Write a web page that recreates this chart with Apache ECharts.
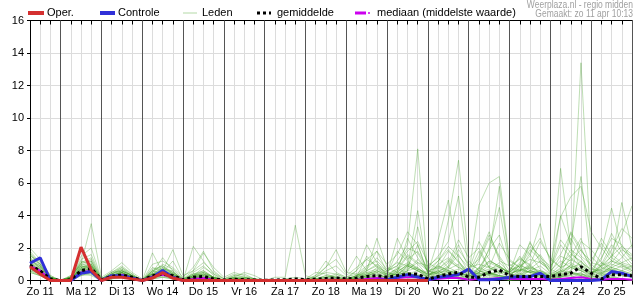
<!DOCTYPE html>
<html><head><meta charset="utf-8">
<script src="https://cdn.jsdelivr.net/npm/echarts@6/dist/echarts.min.js"></script>
<style>html,body{margin:0;padding:0;background:#fff}#c{width:635px;height:300px}</style>
</head><body><div id="c"></div><script>
// time index: 0 = Zo 11 06:00, step 6 hours, 59 = Ma 26 00:00
const dayLabels = ['Zo 11','Ma 12','Di 13','Wo 14','Do 15','Vr 16','Za 17','Zo 18','Ma 19','Di 20','Wo 21','Do 22','Vr 23','Za 24','Zo 25'];
const yTicks = [0,2,4,6,8,10,12,14,16];

const oper = [0.85,0.4,0, 0,0,2.05,0.65, 0,0.2,0.2,0.1, 0,0.15,0.48,0.15, 0,0,0,0, 0,0,0,0, 0,0,0,0, 0,0,0,0, 0,0,0,0, 0,0,0,0, 0];
const controle = [1.06,1.4,0, 0,0,0.45,0.55, 0,0.3,0.3,0.15, 0,0.2,0.62,0.2, 0,0,0,0, 0,0,0,0, 0,0,0,0, 0,0,0,0, 0,0,0,0.02, 0.05,0.2,0.36,0.22, 0.05,0.2,0.27,0.37, 0.7,0.05,0.05,0.1, 0.2,0.23,0.23,0.45, 0,0,0,0, 0,0.05,0.55,0.45, 0.25];
const gemiddelde = [0.95,0.6,0.1, 0,0.05,0.6,0.75, 0.05,0.25,0.35,0.2, 0.02,0.3,0.4,0.3, 0.05,0.2,0.25,0.1, 0.03,0.07,0.06,0.03, 0.02,0.03,0.05,0.1, 0.05,0.08,0.12,0.15, 0.1,0.15,0.25,0.3, 0.2,0.3,0.4,0.4, 0.1,0.25,0.4,0.5, 0.2,0.2,0.5,0.65, 0.3,0.25,0.25,0.25, 0.25,0.35,0.45,0.85, 0.45,0.1,0.35,0.35, 0.3];
const mediaan = [0.9,0.6,0.05, 0,0,0.5,0.6, 0,0.2,0.35,0.15, 0,0.25,0.35,0.2, 0,0.1,0.15,0.05, 0,0,0,0, 0,0,0,0, 0,0,0.05,0.05, 0,0.05,0.1,0.15, 0.1,0.15,0.2,0.2, 0.05,0.1,0.15,0.15, 0.05,0.1,0.1,0.15, 0.1,0.1,0.1,0.1, 0.05,0.1,0.15,0.2, 0.1,0.05,0.1,0.1, 0.05];

const lid01 = [1.0,0.6,0.1, 0,0.1,0.5,0.8, 0,0.3,0.5,0.2, 0,0.2,0.4,0.2, 0,0.1,0.2,0, 0,0.1,0,0, 0,0,0,0, 0,0,0.2,0.3, 0,0.3,0.6,0.9, 0.5,1.2,2.2,8.1, 0.3,0.6,0.2,0.4, 0,0.2,0.5,0.3, 0,0,0.3,0.6, 0.2,0.4,0.3,0.5, 0,0.2,0.3,0.1, 0];
const lid02 = [1.8,1.1,0.2, 0,0.2,1.2,1.0, 0.1,0.5,0.8,0.3, 0,0.8,0.6,0.4, 0.1,0.4,0.3,0.1, 0,0,0,0, 0,0,0,0.1, 0,0.1,0.3,0.2, 0,0.2,1.5,0.8, 0.3,0.6,0.9,4.3, 0.5,2.5,4.95,1.2, 0.2,0.8,0.5,0.2, 0,0.3,0.8,0.4, 0,0.2,0.6,1.2, 0.4,0.9,1.5,2.1, 1.6];
const lid03 = [0.7,0.4,0, 0,0,0.4,0.5, 0,0.2,0.3,0.1, 0,0.5,1.4,0.6, 0,0.2,0.5,0.2, 0,0.2,0.1,0, 0,0,0,0, 0,0,0.1,0, 0.1,0.6,2.2,1.1, 0.3,0.8,0.4,0.6, 0.2,1.0,3.7,7.4, 1.2,0.6,0.4,0.3, 0.2,0.6,1.0,0.4, 0,6.9,2.0,0.8, 0.3,0.5,0.7,0.4, 0.2];
const lid04 = [1.2,0.9,0.2, 0,0.1,0.8,0.6, 0,0.4,0.6,0.3, 0,1.7,0.5,0.2, 0,2.1,1.2,0.4, 0.1,0.2,0.1,0, 0,0,0,0, 0.1,0.3,0.8,1.9, 0.5,0.4,0.2,0.1, 0,0.2,0.5,0.3, 0.1,0.2,0.4,0.3, 0.4,4.65,6.0,6.4, 1.2,0.8,0.5,0.3, 0.1,0.3,0.2,0.4, 0.2,1.0,2.2,1.5, 0.8];
const lid05 = [0.9,0.5,0.1, 0,0,0.7,0.9, 0.1,0.2,0.4,0.2, 0,0.3,0.6,1.9, 0.3,0.6,1.7,0.8, 0.2,0.5,0.3,0.1, 0,0.2,0.2,3.4, 0.3,0.1,0,0, 0,0.1,0.3,0.2, 0.1,0.5,2.6,1.4, 0.6,0.4,0.3,0.2, 0.1,0.3,0.4,0.2, 0.3,0.8,1.5,3.5, 1.0,3.9,5.15,5.8, 3.0,2.0,1.2,0.9, 0.6];
const lid06 = [2.0,1.3,0.3, 0,0.3,1.0,3.5, 0.2,0.6,1.1,0.5, 0.1,0.4,0.3,0.1, 0,0.1,0.2,0.1, 0,0,0,0, 0,0,0,0, 0,0,0,0, 0,0.3,0.8,1.8, 1.0,1.6,3.0,2.2, 0.4,0.5,0.6,0.3, 0.2,0.5,1.2,0.9, 0.4,0.3,0.2,0.5, 0.3,0.6,0.9,13.4, 1.5,0.8,0.6,0.4, 0.3];
const lid07 = [0.6,0.3,0, 0,0,0.3,0.4, 0,0.1,0.2,0.1, 0,0.1,0.2,0.1, 0,0,0.1,0, 0,0,0,0, 0,0,0,0, 0,0,0,0, 0,0,0.1,0.2, 0.1,0.3,0.6,3.3, 0.8,1.5,2.4,5.2, 0.6,0.4,2.0,4.5, 0.8,0.6,0.5,0.4, 0.2,0.4,1.0,0.6, 0.3,1.8,4.45,2.0, 1.2];
const lid08 = [1.4,0.7,0.1, 0,0.2,0.6,0.7, 0,0.3,0.5,0.2, 0,0.4,0.8,0.5, 0.1,0.3,0.2,0.1, 0,0.1,0.2,0.1, 0,0,0.1,0, 0,0.2,0.85,1.3, 0.4,1.5,0.6,2.6, 0.8,0.5,0.3,0.2, 0.1,0.3,0.5,0.2, 0,0.8,1.6,5.8, 1.0,0.6,0.9,0.4, 0.2,4.0,2.2,6.4, 1.1,0.9,1.2,4.8, 2.0];
const lid09 = [0.8,0.5,0.1, 0,0.1,0.9,1.2, 0,0.2,0.3,0.1, 0,0.2,0.4,0.3, 0,0.1,0.3,0.1, 0,0,0,0, 0,0,0,0, 0,0,0,0.2, 0.1,0.2,0.4,0.3, 0.2,0.4,0.8,2.2, 0.5,0.9,0.6,0.4, 0.3,0.4,0.5,0.3, 0.2,0.5,2.4,1.1, 0.6,1.2,0.8,0.6, 0.4,0.8,1.5,2.8, 4.6];
const lid10 = [1.1,0.8,0.2, 0,0.2,1.5,2.0, 0.1,0.4,0.7,0.3, 0,0.6,0.9,0.4, 0,0.4,0.6,0.2, 0,0.3,0.4,0.1, 0,0,0,0, 0,0.3,1.2,0.5, 0.2,0.6,1.3,1.8, 0.5,0.3,0.6,0.8, 0.2,0.4,0.8,1.6, 0.5,1.8,0.8,0.4, 0.6,1.5,0.7,0.3, 0.2,0.5,1.5,2.6, 0.8,0.4,0.3,0.6, 0.9];
const lid11 = [0.5,0.3,0, 0,0,0.4,0.3, 0,0.1,0.2,0.1, 0,0.1,0.3,0.1, 0,0.1,0,0, 0,0,0,0, 0,0,0,0, 0,0,0,0, 0,0,0,0, 0,0.2,0.4,0.3, 0.1,0.3,0.6,0.4, 0.3,1.2,2.6,1.4, 0.3,0.2,0.6,0.4, 0.1,0.2,0.5,0.3, 0.1,0.3,0.5,0.4, 0.2];
const lid12 = [1.6,1.0,0.2, 0,0.2,1.1,1.4, 0.1,0.5,0.9,0.4, 0,1.0,1.2,0.8, 0.2,0.8,1.8,0.6, 0.1,0.4,0.2,0.1, 0,0,0,0, 0,0.2,0.5,0.4, 0.2,0.4,0.9,1.2, 0.6,0.9,1.8,2.4, 1.1,0.7,1.2,0.8, 0.6,0.4,0.3,0.2, 0.1,0.3,0.6,0.9, 0.4,1.0,1.6,1.2, 0.6,0.4,0.9,1.4, 2.2];
const lid13 = [0.9,0.6,0.1, 0,0.1,0.7,0.6, 0,0.2,0.4,0.2, 0,0.2,0.5,1.2, 0.1,0.3,0.4,0.2, 0,0.1,0.1,0, 0,0,0,0, 0,0,0.1,0.1, 0,0.1,0.2,0.4, 0.2,0.6,1.5,1.0, 0.3,0.5,1.1,2.5, 1.4,2.0,0.8,0.5, 0.2,1.0,2.1,1.5, 0.4,0.3,0.8,1.0, 0.5,0.7,1.2,1.0, 0.6];
const lid14 = [1.3,0.9,0.1, 0,0.3,0.9,0.8, 0,0.3,0.6,0.2, 0,0.6,0.4,0.3, 0,0.3,0.4,0.2, 0,0,0,0, 0,0,0,0, 0,0.1,0.3,0.2, 0,0.1,0.3,0.5, 0.1,0.2,0.3,0.4, 0.2,0.2,0.3,0.5, 0.2,0.3,0.4,0.6, 0.4,0.7,0.5,0.6, 0.3,0.5,0.8,0.6, 0.2,0.4,0.7,0.5, 0.3];
const lid15 = [0.7,0.4,0.1, 0,0.2,0.5,0.6, 0,0.2,0.3,0.2, 0,0.3,0.4,0.2, 0,0.2,0.3,0.1, 0,0.1,0.1,0, 0,0,0,0, 0,0,0,0, 0,0,0,0, 0,0,0.1,0.3, 0.3,0.8,1.8,1.2, 0.4,0.6,1.1,0.8, 0.5,2.2,1.6,0.7, 0.2,0.6,3.0,2.0, 0.7,1.4,2.6,2.2, 1.3];
const lid16 = [1.5,1.2,0.3, 0,0.2,1.3,1.6, 0.1,0.4,0.6,0.3, 0,0.5,0.7,0.6, 0,0.3,0.8,0.4, 0,0.2,0.5,0.3, 0,0,0.1,0.2, 0.1,0.5,0.4,0.2, 0.1,0.3,0.7,1.4, 0.7,1.1,0.9,0.6, 0.4,0.3,0.2,0.1, 0,0.2,0.6,1.1, 0.5,0.9,1.3,1.1, 0.7,0.4,0.6,2.4, 1.9,1.1,0.6,0.4, 0.3];
const lid17 = [0.6,0.4,0.1, 0,0.1,0.6,0.9, 0,0.3,0.5,0.1, 0,0.2,0.3,0.2, 0,0.2,0.1,0, 0,0,0,0, 0,0,0,0, 0,0,0,0, 0,0,0.2,0.6, 0.4,0.7,1.1,0.8, 0.3,0.6,0.3,0.2, 0.1,0.3,0.5,0.3, 0.2,0.4,0.3,0.2, 0.1,0.3,0.5,0.4, 0.2,0.3,0.4,0.3, 0.2];
const lid18 = [1.0,0.7,0.2, 0,0.1,0.8,1.1, 0,0.3,0.4,0.3, 0,0.3,0.7,0.4, 0,0.5,0.9,0.3, 0,0.1,0.2,0.1, 0,0,0,0, 0,0,0.1,0.2, 0.1,0.3,0.5,0.7, 0.4,2.6,1.3,1.8, 0.7,1.2,2.1,1.5, 0.8,1.0,0.8,2.3, 1.3,0.8,1.9,1.3, 0.5,1.5,1.2,1.9, 0.9,2.6,1.6,1.1, 0.9];
const lid19 = [1.1,0.6,0.1, 0,0.1,0.5,0.4, 0,0.2,0.3,0.1, 0,0.3,0.5,0.3, 0,0.1,0.2,0.1, 0,0,0,0, 0,0,0,0, 0,0,0,0, 0,0.1,0.2,0.1, 0,0.2,0.5,0.3, 0.1,0.2,0.4,0.2, 0,0.1,0.2,0.1, 0,0.1,0.3,0.2, 0.1,0.2,0.4,0.3, 0.1,0.2,0.2,0.1, 0];
const lid20 = [1.7,1.0,0.2, 0,0.2,1.0,1.3, 0,0.4,0.8,0.4, 0,0.7,0.9,0.5, 0.1,0.6,1.1,0.5, 0.1,0.3,0.2,0, 0,0,0,0, 0,0.1,0.2,0.1, 0,0.2,0.6,1.0, 0.6,0.9,2.0,1.7, 0.5,1.0,1.4,0.9, 0.3,1.5,3.0,1.2, 0.9,1.3,1.0,2.4, 1.4,0.8,2.6,1.5, 1.0,0.5,0.8,1.1, 1.4];
const lid21 = [0.8,0.5,0, 0,0.1,0.6,0.5, 0,0.1,0.3,0.2, 0,0.2,0.3,0.4, 0,0.1,0.2,0, 0,0,0,0, 0,0,0,0, 0,0,0,0, 0,0.1,0.3,0.8, 0.5,0.3,0.6,1.3, 0.6,0.4,0.7,1.0, 0.5,0.7,1.9,2.8, 0.8,0.4,0.9,1.6, 0.7,2.2,1.4,0.9, 0.4,1.1,0.8,0.6, 0.4];
const lid22 = [1.3,0.8,0.2, 0,0.2,0.8,1.0, 0,0.3,0.5,0.2, 0,0.4,0.6,0.3, 0,0.2,0.4,0.2, 0,0.1,0,0, 0,0,0,0, 0,0,0,0.1, 0,0.2,0.5,0.4, 0.2,0.4,0.9,0.6, 0.3,0.7,1.3,0.8, 0.4,0.6,0.4,0.5, 0.6,1.4,0.9,0.5, 0.3,0.8,1.1,0.7, 0.5,0.9,1.9,3.2, 2.6];
const lid23 = [0.5,0.3,0, 0,0,0.3,0.5, 0,0.2,0.2,0.1, 0,0.1,0.2,0.1, 0,0.1,0.1,0, 0,0,0,0, 0,0,0,0, 0,0,0,0, 0,0,0,0, 0,0.1,0.2,0.1, 0,0.1,0.2,0.1, 0,0.1,0.3,0.2, 0,0.2,0.4,0.2, 0,0.2,0.3,0.1, 0,0.1,0.2,0.1, 0];
const lid24 = [1.2,0.8,0.1, 0,0.1,0.9,0.7, 0,0.2,0.6,0.3, 0,0.5,1.0,0.7, 0.1,0.4,0.5,0.2, 0,0.2,0.1,0, 0,0,0,0, 0,0,0.2,0.4, 0.1,0.3,0.4,0.6, 0.3,0.5,1.0,0.7, 0.4,0.9,0.6,0.5, 0.3,0.5,0.7,0.9, 0.5,0.6,0.8,0.6, 0.4,0.7,1.3,0.9, 0.5,0.7,1.0,0.8, 0.5];
const lid25 = [1.4,1.0,0.2, 0,0.2,1.0,0.9, 0,0.4,0.7,0.3, 0,0.6,0.8,0.4, 0,0.3,0.5,0.2, 0,0.1,0.1,0, 0,0,0,0, 0,0.2,0.6,0.9, 0.3,0.8,1.3,0.9, 0.4,1.8,1.2,0.7, 0.5,1.2,1.9,1.1, 0.6,2.4,1.3,0.8, 0.5,1.1,2.3,1.4, 0.9,1.6,2.9,1.8, 1.2,2.3,1.4,1.0, 0.8];
const lid26 = [0.9,0.6,0.1, 0,0.1,0.7,0.8, 0,0.3,0.5,0.2, 0,0.4,0.5,0.3, 0,0.2,0.3,0.1, 0,0,0,0, 0,0,0,0, 0,0,0,0, 0,0.1,0.4,0.6, 0.3,0.7,1.6,1.1, 0.9,1.4,0.8,1.9, 1.0,0.7,1.2,0.9, 0.4,0.6,1.7,2.6, 1.3,0.8,1.9,1.4, 0.6,1.3,2.9,1.7, 1.0];
const lid27 = [1.1,0.7,0.1, 0,0.1,0.8,0.9, 0,0.3,0.4,0.2, 0,0.3,0.6,0.3, 0,0.2,0.2,0.1, 0,0,0.1,0, 0,0,0,0, 0,0,0,0, 0,0.2,0.3,0.2, 0.1,0.3,0.9,0.6, 0.2,0.5,0.9,2.2, 0.8,1.3,2.8,1.5, 0.6,0.9,0.7,1.2, 0.8,2.5,1.7,1.1, 0.7,0.6,1.1,1.9, 1.5];
const lid28 = [1.6,0.9,0.2, 0,0.2,1.1,1.2, 0.1,0.5,0.6,0.3, 0,0.4,0.7,0.5, 0,0.3,0.6,0.2, 0,0.1,0,0, 0,0,0,0, 0,0.1,0.2,0.1, 0,0.1,0.3,0.5, 0.3,0.4,0.7,1.1, 0.6,0.8,0.5,0.7, 0.3,0.5,0.9,0.6, 0.4,0.7,0.5,0.3, 0.2,0.5,0.9,0.7, 0.4,0.6,0.8,0.6, 0.4];
const lid29 = [0.7,0.5,0.1, 0,0.1,0.6,0.7, 0,0.2,0.4,0.2, 0,0.3,0.4,0.2, 0,0.1,0.2,0.1, 0,0,0,0, 0,0,0,0, 0,0,0,0, 0,0,0.1,0.3, 0.2,0.5,1.0,0.7, 0.4,0.6,0.8,0.5, 0.3,0.4,0.6,0.8, 0.5,1.0,0.6,0.4, 0.3,0.6,0.5,0.4, 0.3,0.5,0.6,0.9, 0.7];
const lid30 = [1.0,0.6,0.1, 0,0.1,0.7,1.0, 0,0.3,0.5,0.2, 0,0.4,0.6,0.4, 0,0.2,0.4,0.1, 0,0,0,0, 0,0,0,0, 0,0,0,0, 0,0,0,0, 0,0.1,0.3,0.2, 0.1,0.3,0.5,0.3, 0.2,0.3,0.4,0.3, 0.2,0.4,0.6,0.4, 0.2,0.3,0.5,0.3, 0.2,0.4,0.5,0.3, 0.2];
const leden = [lid01,lid02,lid03,lid04,lid05,lid06,lid07,lid08,lid09,lid10,lid11,lid12,lid13,lid14,lid15,lid16,lid17,lid18,lid19,lid20,lid21,lid22,lid23,lid24,lid25,lid26,lid27,lid28,lid29,lid30];

leden.forEach((a,k)=>{ if(a.length!==60) throw new Error('lid '+(k+1)+' len '+a.length); });
[['controle',controle],['gemiddelde',gemiddelde],['mediaan',mediaan]].forEach(p=>{ if(p[1].length!==60) throw new Error(p[0]+' len '+p[1].length); });

const toXY = a => a.map((v,i)=>[i,v]);
const nSteps = 59;
const FONT = '"Liberation Sans", Arial, sans-serif';

const series = [];
leden.forEach((a,k)=>{
  series.push({
    type:'line', name:'Leden', data:toXY(a), showSymbol:false, symbol:'none', silent:true,
    lineStyle:{width:1, color:'rgba(70,160,40,0.35)'}, z:2,
    markLine: k===0 ? {silent:true, symbol:'none', label:{show:false},
      lineStyle:{color:'#555', width:1, type:'solid'},
      data: dayLabels.map((d,j)=>({xAxis: 3+4*j}))} : undefined
  });
});
series.push({type:'line', name:'mediaan', data:toXY(mediaan), symbol:'none', silent:true, lineStyle:{width:2, color:'#cc00ee'}, z:3});
series.push({type:'line', name:'Controle', data:toXY(controle), symbol:'none', silent:true, lineStyle:{width:3, color:'#3030d8'}, z:4});
series.push({type:'line', name:'gemiddelde', data:toXY(gemiddelde), symbol:'none', silent:true, lineStyle:{width:3, color:'#000', type:'dotted'}, z:5});
series.push({type:'line', name:'Oper.', data:toXY(oper), symbol:'none', silent:true, lineStyle:{width:3, color:'#d43030'}, z:6});

const legendItems = [
  {x:28, w:16, text:'Oper.', tx:47, style:{stroke:'#d43030', lineWidth:4}},
  {x:100, w:15, text:'Controle', tx:118, style:{stroke:'#3030d8', lineWidth:4}},
  {x:183, w:14, text:'Leden', tx:202, style:{stroke:'#b3d9a6', lineWidth:1}},
  {x:257, w:14, text:'gemiddelde', tx:277, style:{stroke:'#000', lineWidth:3, lineDash:[3,3]}},
  {x:355, w:11, text:'mediaan (middelste waarde)', tx:377, style:{stroke:'#cc00ee', lineWidth:3}}
];
const graphic = [];
legendItems.forEach(it=>{
  graphic.push({type:'line', shape:{x1:it.x, y1:13, x2:it.x+it.w, y2:13}, style:it.style, silent:true});
  graphic.push({type:'text', x:it.tx, y:13, style:{text:it.text, font:'11px '+FONT, fill:'#000', textVerticalAlign:'middle'}, silent:true});
});
graphic.push({type:'circle', shape:{cx:369, cy:13, r:1}, style:{fill:'#cc00ee'}, silent:true});
graphic.push({type:'text', x:633, y:5, scaleX:0.85, style:{text:'Weerplaza.nl - regio midden', font:'10px '+FONT, fill:'#a0a0a0', textAlign:'right', textVerticalAlign:'middle'}, silent:true});
graphic.push({type:'text', x:633, y:14.5, scaleX:0.85, style:{text:'Gemaakt: zo 11 apr 10:13', font:'10px '+FONT, fill:'#a0a0a0', textAlign:'right', textVerticalAlign:'middle'}, silent:true});

const chart = echarts.init(document.getElementById('c'), null, {renderer:'canvas'});
chart.setOption({
  animation:false,
  backgroundColor:'#fff',
  grid:{left:30, right:1, top:20.5, bottom:19.5, containLabel:false},
  xAxis:[{
    type:'value', min:0, max:nSteps, interval:1, position:'bottom',
    axisLine:{show:true, onZero:false, lineStyle:{color:'#000', width:1}},
    axisTick:{show:true, length:4, lineStyle:{color:'#000'}},
    axisLabel:{show:true, margin:6, fontSize:11, fontFamily:FONT, color:'#000', showMinLabel:true, showMaxLabel:true,
      formatter:v=> ((v-1)%4===0 && dayLabels[(v-1)/4]) ? dayLabels[(v-1)/4] : ''},
    splitLine:{show:true, lineStyle:{color:'#dcdcdc', width:1}}
  },{
    type:'value', min:0, max:nSteps, interval:1, position:'top',
    axisLine:{show:true, onZero:false, lineStyle:{color:'#000', width:1}},
    axisTick:{show:true, inside:true, length:4, lineStyle:{color:'#000'}},
    axisLabel:{show:false}, splitLine:{show:false}
  }],
  yAxis:{
    type:'value', min:yTicks[0], max:yTicks[yTicks.length-1], interval:2,
    axisLine:{show:true, lineStyle:{color:'#000'}},
    axisTick:{show:true, length:3, lineStyle:{color:'#000'}},
    axisLabel:{margin:6, fontSize:11, fontFamily:FONT, color:'#000'},
    splitLine:{show:true, lineStyle:{color:'#dcdcdc', width:1}}
  },
  graphic: graphic,
  series: series
});
</script></body></html>
